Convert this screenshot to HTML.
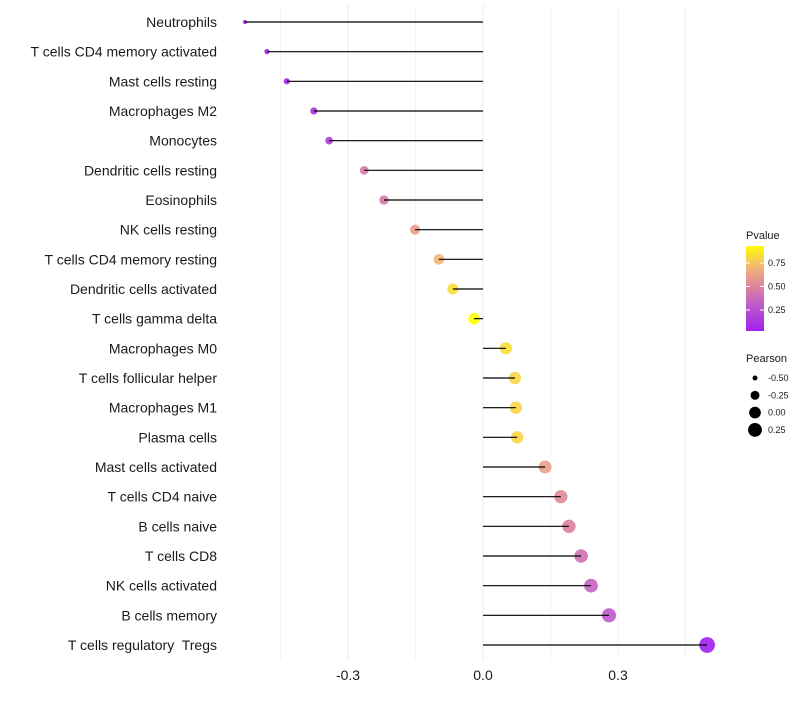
<!DOCTYPE html>
<html><head><meta charset="utf-8"><style>
body{margin:0;background:#fff;font-family:"Liberation Sans",sans-serif;}
text{white-space:pre;}
</style></head><body>
<svg id="chart" width="800" height="700" xmlns="http://www.w3.org/2000/svg">
<defs><linearGradient id="pg" x1="0" y1="1" x2="0" y2="0">
<stop offset="0" stop-color="#A020F0"/><stop offset="0.33" stop-color="#C060C8"/><stop offset="0.5" stop-color="#DC80A0"/><stop offset="0.75" stop-color="#F2B478"/><stop offset="1" stop-color="#FFFF00"/></linearGradient></defs>
</svg>
<script>
const categories=["Neutrophils","T cells CD4 memory activated","Mast cells resting","Macrophages M2","Monocytes","Dendritic cells resting","Eosinophils","NK cells resting","T cells CD4 memory resting","Dendritic cells activated","T cells gamma delta","Macrophages M0","T cells follicular helper","Macrophages M1","Plasma cells","Mast cells activated","T cells CD4 naive","B cells naive","T cells CD8","NK cells activated","B cells memory","T cells regulatory  Tregs"];
const pearson=[-0.529,-0.48,-0.436,-0.376,-0.342,-0.264,-0.22,-0.151,-0.098,-0.067,-0.02,0.051,0.071,0.073,0.076,0.138,0.173,0.191,0.218,0.24,0.28,0.498];
const pvalues=[0.05,0.03,0.05,0.1,0.15,0.45,0.45,0.65,0.75,0.85,0.93,0.85,0.83,0.83,0.83,0.65,0.55,0.5,0.42,0.35,0.3,0.03];
const xTicks=[-0.3,0,0.3];
const xTickLabels=["-0.3","0.0","0.3"];
const legendP=[0.25,0.5,0.75];
const legendPearson=[-0.5,-0.25,0,0.25];
const legendPearsonLabels=["-0.50","-0.25","0.00","0.25"];

const svg=document.getElementById('chart');
const NS="http://www.w3.org/2000/svg";
const xs=v=>483+v*450;
const ys=i=>22+i*(623/21);
const rs=p=>Math.sqrt(Math.max(1.5,34+56*p));
function lerp(a,b,t){return a+(b-a)*t;}
const stops=[[0.03,[160,32,240]],[0.33,[192,96,200]],[0.5,[220,128,160]],[0.75,[242,180,120]],[0.93,[255,255,0]]];
function col(p){p=Math.max(0.03,Math.min(0.93,p));for(let i=0;i<stops.length-1;i++){const[a,ca]=stops[i],[b,cb]=stops[i+1];if(p<=b){const t=(p-a)/(b-a);return `rgb(${ca.map((c,k)=>Math.round(lerp(c,cb[k],t))).join(',')})`;}}return 'rgb(255,255,0)';}
function mk(tag,attrs,parent){const e=document.createElementNS(NS,tag);for(const k in attrs)e.setAttribute(k,attrs[k]);(parent||svg).appendChild(e);return e;}
for(let g=-0.45;g<=0.46;g+=0.15){const l=mk('line',{x1:xs(g),x2:xs(g),y1:5,y2:660,stroke:'#ebebeb','stroke-width':Math.abs(g%0.3)<0.01?1:0.6});

}
categories.forEach((c,i)=>{
const y=ys(i);
const t=mk('text',{x:217,y:y+5,'text-anchor':'end','font-size':14,fill:'#1a1a1a'});t.textContent=c;


const pt=mk('circle',{cx:xs(pearson[i]),cy:y,r:rs(pearson[i]),fill:col(pvalues[i]),'fill-opacity':0.9});


const s=mk('line',{x1:xs(0),x2:xs(pearson[i]),y1:y,y2:y,stroke:'#000','stroke-width':1.2});


});
xTicks.forEach((v,i)=>{const t=mk('text',{x:xs(v),y:680,'text-anchor':'middle','font-size':14,fill:'#1a1a1a'});t.textContent=xTickLabels[i];

});
const lt=mk('text',{x:746,y:239,'font-size':11,fill:'#1a1a1a'});lt.textContent='Pvalue';


const cb=mk('rect',{x:746,y:246,width:18,height:85,fill:'url(#pg)'});


const py=p=>310-(p-0.25)*94;
legendP.forEach(p=>{mk('line',{x1:746,x2:750,y1:py(p),y2:py(p),stroke:'#fff'});mk('line',{x1:760,x2:764,y1:py(p),y2:py(p),stroke:'#fff'});
const t=mk('text',{x:768,y:py(p)+3,'font-size':9,fill:'#1a1a1a'});t.textContent=p.toFixed(2);

});
const pt2=mk('text',{x:746,y:362,'font-size':11,fill:'#1a1a1a'});pt2.textContent='Pearson';


legendPearson.forEach((p,i)=>{const y=378+i*17.3;const c=mk('circle',{cx:755,cy:y,r:rs(p),fill:'#000'});


const t=mk('text',{x:768,y:y+3,'font-size':9,fill:'#1a1a1a'});t.textContent=legendPearsonLabels[i];

});
</script>
</body></html>
